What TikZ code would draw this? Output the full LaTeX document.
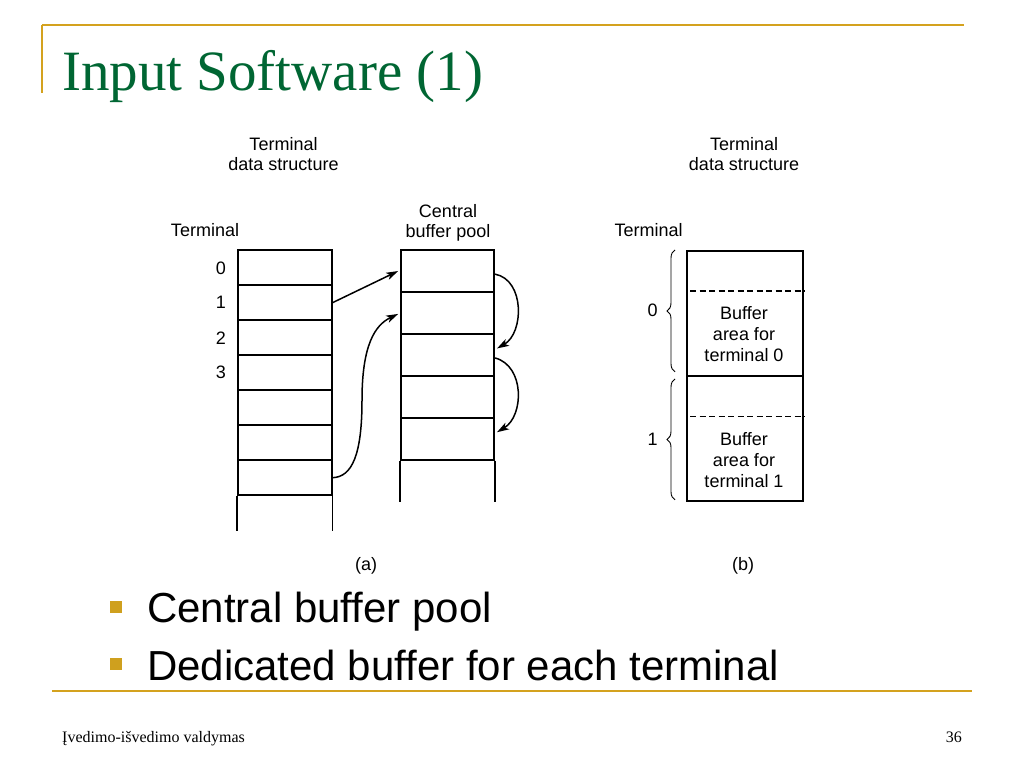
\documentclass[tikz,border=0pt]{standalone}
\usepackage{fontspec}
\setmainfont{Liberation Serif}
\newfontfamily\arialf{Liberation Sans}
\usetikzlibrary{arrows.meta,decorations.pathreplacing}
\definecolor{gold}{RGB}{212,162,30}
\definecolor{bulletgold}{RGB}{207,160,30}
\definecolor{titlegreen}{RGB}{0,102,51}
\begin{document}
\begin{tikzpicture}[x=1pt,y=-1pt,
  lab/.style={font=\arialf\fontsize{18}{20}\selectfont, inner sep=0pt, align=center},
  blab/.style={font=\arialf\fontsize{18}{21}\selectfont, inner sep=0pt, align=center},
  lcell/.style={draw, line width=1.8pt, minimum width=93.4pt, minimum height=35pt, inner sep=0pt, anchor=north west},
  rcell/.style={draw, line width=1.8pt, minimum width=93.3pt, minimum height=41.9pt, inner sep=0pt, anchor=north west},
  bbox/.style={draw, line width=1.8pt, minimum width=116.3pt, minimum height=125pt, inner sep=0pt, anchor=north west},
  openline/.style={line width=1.8pt},
  arr/.style={line width=1.5pt, -{Stealth[length=12pt,width=7.5pt,inset=3pt]}},
  dashline/.style={line width=1.1pt, dash pattern=on 6pt off 3.5pt},
  bracestyle/.style={line width=0.9pt, decorate, decoration={brace, amplitude=8pt}},
  goldline/.style={draw=gold, line width=2.2pt},
  bulletsq/.style={fill=bulletgold, minimum size=12.5pt, inner sep=0pt},
  bullettext/.style={font=\arialf\fontsize{42}{50}\selectfont, inner sep=0pt, anchor=base west}
]
\useasboundingbox[fill=white] (0,0) rectangle (1024,768);

% slide frame
\draw[goldline] (42,25) -- (964,25);
\draw[goldline] (42,25) -- (42,93);
\draw[goldline, line width=2.5pt] (52,691) -- (972,691);

% title
\node[anchor=base west, inner sep=0pt, text=titlegreen, font=\fontsize{57}{60}\selectfont] (title) at (62,90) {Input Software (1)};

% ---------- (a) ----------
\node[lab] (tds1) at (283.5,154) {Terminal\\data structure};
\node[lab] (cbp) at (448,222.5) {Central\\buffer pool};
\node[lab, anchor=base] (term1) at (205,236) {Terminal};

\foreach \i in {0,...,6} {
  \node[lcell] (L\i) at (237.3,249.3+35*\i) {};
}
\draw[openline] (L6.south west) -- ++(0,34.4);
\draw[openline] (L6.south east) -- ++(0,34.4);

\foreach \i/\y in {0/268.3,1/302.7,2/338.3,3/372.7} {
  \node[lab] (n\i) at (221,\y) {\i};
}

\foreach \i in {0,...,4} {
  \node[rcell] (R\i) at (400,249.3+41.9*\i) {};
}
\draw[openline] (R4.south west) -- ++(0,41.2);
\draw[openline] (R4.south east) -- ++(0,41.2);

\draw[arr, shorten >=2pt] (L1.east) -- ([yshift=1pt]R0.west);
\draw[arr, shorten >=2pt] (L6.east) .. controls (352,477) and (362,455) .. (362,400)
      .. controls (362,345) and (375,325) .. (R1.west);
\draw[arr, shorten >=1pt] ([yshift=-3pt]R0.east) .. controls (525,280) and (524,333) .. ([xshift=1pt,yshift=6pt]R2.east);
\draw[arr, shorten >=1pt] ([yshift=-3pt]R2.east) .. controls (525,366) and (524,416) .. ([xshift=1pt,yshift=6pt]R4.east);

\node[lab] (capa) at (366,566) {(a)};

% ---------- (b) ----------
\node[lab] (tds2) at (744,154) {Terminal\\data structure};
\node[lab, anchor=base] (term2) at (648.5,236) {Terminal};

\node[bbox] (B0) at (686,250) {};
\node[bbox] (B1) at (686,375) {};
\draw[dashline] ([xshift=4pt,yshift=-41pt]B0.north west) -- ([yshift=-41pt]B0.north east);
\draw[dashline] ([xshift=4pt,yshift=-41.7pt]B1.north west) -- ([yshift=-41.7pt]B1.north east);

\node[blab] (txt0) at (744,334) {Buffer\\area for\\terminal 0};
\node[blab] (txt1) at (744,460) {Buffer\\area for\\terminal 1};

\draw[bracestyle] ([xshift=-11pt,yshift=5pt]B0.south west) -- ([xshift=-11pt]B0.north west);
\draw[bracestyle] ([xshift=-11pt,yshift=2pt]B1.south west) -- ([xshift=-11pt,yshift=-4pt]B1.north west);
\node[lab] (b0) at (652.7,310) {0};
\node[lab] (b1) at (652.7,439) {1};

\node[lab] (capb) at (743,566) {(b)};

% ---------- bullets ----------
\node[bulletsq] (s1) at (116,607) {};
\node[bulletsq] (s2) at (116,664) {};
\node[bullettext] (t1) at (147,622) {Central buffer pool};
\node[bullettext] (t2) at (147,680) {Dedicated buffer for each terminal};

% footer
\node[anchor=base west, inner sep=0pt, font=\fontsize{16}{18}\selectfont] (foot) at (62,742) {Įvedimo-išvedimo valdymas};
\node[anchor=base east, inner sep=0pt, font=\fontsize{16}{18}\selectfont] (page) at (962,742) {36};
\end{tikzpicture}
\end{document}
